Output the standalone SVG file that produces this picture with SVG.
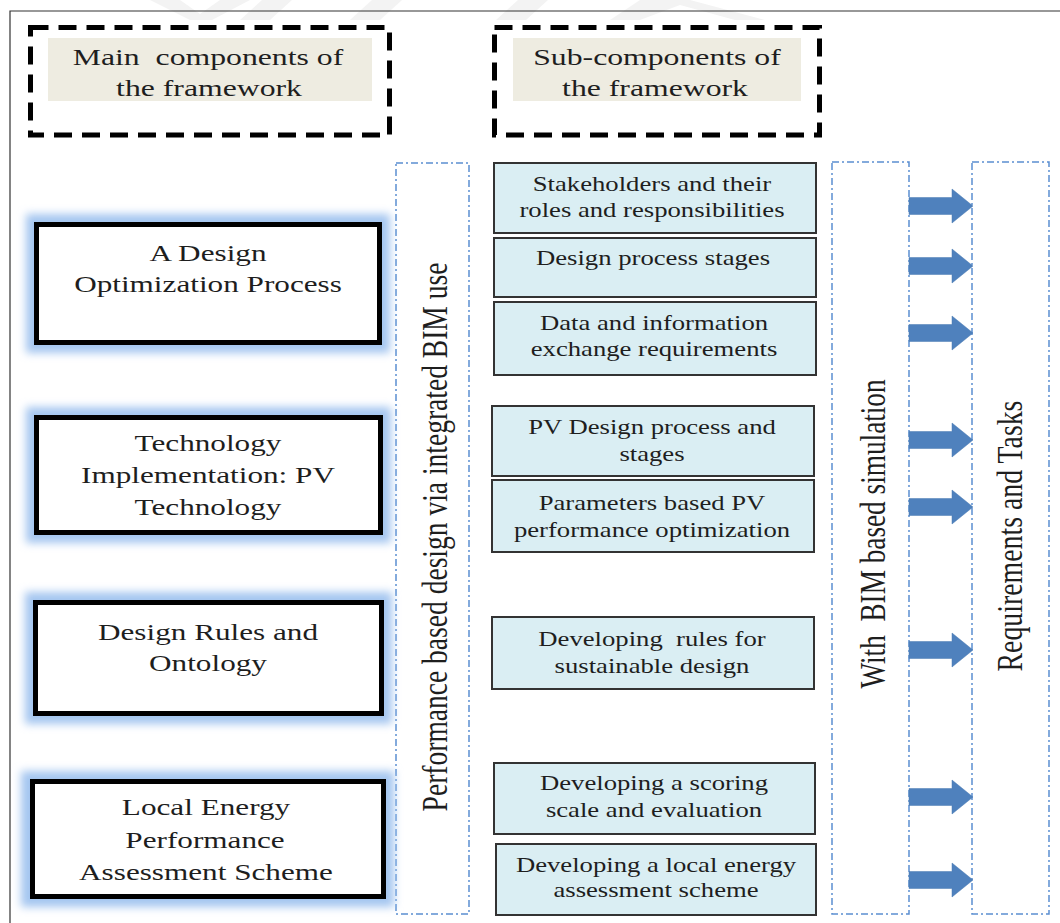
<svg xmlns="http://www.w3.org/2000/svg" width="1060" height="923" viewBox="0 0 1060 923">
<style>
  text { fill: #1e1e1e; text-anchor: middle; font-family: 'Liberation Serif', serif; }
  .hdr { font-size: 23px; }
  .main { font-size: 24px; }
  .sub { font-size: 21px; }
  .vert { font-size: 27px; }
  .dashbox { fill: none; stroke: #000; stroke-width: 5; stroke-dasharray: 18 10; }
  .beige { fill: #eeece1; }
  .mainbox { fill: #fff; stroke: #000; stroke-width: 5; }
  .glowrect { fill: #a4c6f0; }
  .subbox { fill: #daeef3; stroke: #333; stroke-width: 2; }
  .col { fill: none; stroke: #5b8ed1; stroke-width: 1.5; stroke-dasharray: 7 3 2 3; }
  .arrow { fill: #4f81bd; stroke: #4a7ab3; stroke-width: 0.5; }
  .wm { fill: #f3f3f3; }
</style>
<defs>
  <filter id="glow" x="-15%" y="-30%" width="130%" height="160%">
    <feGaussianBlur stdDeviation="4"/>
  </filter>
</defs>
<rect x="0" y="0" width="1060" height="923" fill="#fff"/>

<g id="watermark">
  <polygon class="wm" points="150,0 180,0 200,14 220,0 250,0 212,20 190,20"/>
  <polygon class="wm" points="262,0 292,0 270,20 240,20"/>
  <polygon class="wm" points="372,0 402,0 380,20 350,20"/>
  <polygon class="wm" points="518,0 548,0 526,20 496,20"/>
  <polygon class="wm" points="640,0 690,0 765,20 735,20 680,5 640,20 610,20"/>
</g>

<g id="frame">
  <polyline points="10,923 10,11 1060,11" fill="none" stroke="#333" stroke-width="1.2"/>
</g>

<g id="header-main">
  <rect class="dashbox" x="30.5" y="27.5" width="359" height="107.5"/>
  <rect class="beige" x="48" y="38" width="324" height="63"/>
  <text class="hdr" transform="translate(208,65) scale(1.38,1)" xml:space="preserve">Main  components of</text>
  <text class="hdr" transform="translate(209,96) scale(1.38,1)">the framework</text>
</g>

<g id="header-sub">
  <rect class="dashbox" x="494.5" y="27.5" width="325" height="107.5"/>
  <rect class="beige" x="513" y="38" width="288" height="63"/>
  <text class="hdr" transform="translate(657,65) scale(1.38,1)">Sub-components of</text>
  <text class="hdr" transform="translate(655,96) scale(1.38,1)">the framework</text>
</g>

<g id="col-performance">
  <rect class="col" x="396" y="163" width="73" height="751"/>
  <text class="vert" transform="translate(447,537) scale(1.3,1) rotate(-90) scale(1.02,1)">Performance based design via integrated BIM use</text>
</g>

<g id="col-simulation">
  <rect class="col" x="832" y="162" width="77" height="752"/>
  <text class="vert" transform="translate(885,534) scale(1.3,1) rotate(-90) scale(1.01,1)" xml:space="preserve">With  BIM based simulation</text>
</g>

<g id="col-requirements">
  <rect class="col" x="972" y="162" width="77" height="752"/>
  <text class="vert" transform="translate(1022,536) scale(1.3,1) rotate(-90) scale(1.03,1)">Requirements and Tasks</text>
</g>

<g id="main-design-optimization">
  <rect class="glowrect" x="26" y="214" width="364" height="139" filter="url(#glow)"/>
  <rect class="mainbox" x="36.5" y="224.5" width="343" height="118"/>
  <text class="main" transform="translate(208,261) scale(1.3,1)">A Design</text>
  <text class="main" transform="translate(208,292) scale(1.3,1)">Optimization Process</text>
</g>

<g id="main-technology">
  <rect class="glowrect" x="26" y="407" width="365" height="136" filter="url(#glow)"/>
  <rect class="mainbox" x="36.5" y="417.5" width="344" height="115"/>
  <text class="main" transform="translate(208,451) scale(1.3,1)">Technology</text>
  <text class="main" transform="translate(208,483) scale(1.3,1)">Implementation: PV</text>
  <text class="main" transform="translate(208,515) scale(1.3,1)">Technology</text>
</g>

<g id="main-design-rules">
  <rect class="glowrect" x="25" y="592" width="367" height="132" filter="url(#glow)"/>
  <rect class="mainbox" x="35.5" y="602.5" width="346" height="111"/>
  <text class="main" transform="translate(208,640) scale(1.3,1)">Design Rules and</text>
  <text class="main" transform="translate(208,671) scale(1.3,1)">Ontology</text>
</g>

<g id="main-local-energy">
  <rect class="glowrect" x="21" y="771" width="373" height="136" filter="url(#glow)"/>
  <rect class="mainbox" x="32.5" y="781.5" width="351" height="115"/>
  <text class="main" transform="translate(206,815) scale(1.3,1)">Local Energy</text>
  <text class="main" transform="translate(205,848) scale(1.3,1)">Performance</text>
  <text class="main" transform="translate(206,880) scale(1.3,1)">Assessment Scheme</text>
</g>

<g id="sub-stakeholders">
  <rect class="subbox" x="494" y="163" width="322" height="70"/>
  <text class="sub" transform="translate(652,191) scale(1.27,1)">Stakeholders and their</text>
  <text class="sub" transform="translate(652,217) scale(1.27,1)">roles and responsibilities</text>
</g>

<g id="sub-design-process">
  <rect class="subbox" x="494" y="238" width="322" height="59"/>
  <text class="sub" transform="translate(653,265) scale(1.27,1)">Design process stages</text>
</g>

<g id="sub-data-exchange">
  <rect class="subbox" x="494" y="302" width="322" height="73"/>
  <text class="sub" transform="translate(654,330) scale(1.27,1)">Data and information</text>
  <text class="sub" transform="translate(654,356) scale(1.27,1)">exchange requirements</text>
</g>

<g id="sub-pv-design">
  <rect class="subbox" x="492" y="406" width="322" height="70"/>
  <text class="sub" transform="translate(652,434) scale(1.27,1)">PV Design process and</text>
  <text class="sub" transform="translate(652,461) scale(1.27,1)">stages</text>
</g>

<g id="sub-parameters">
  <rect class="subbox" x="492" y="480" width="322" height="72"/>
  <text class="sub" transform="translate(652,510) scale(1.27,1)">Parameters based PV</text>
  <text class="sub" transform="translate(652,537) scale(1.27,1)">performance optimization</text>
</g>

<g id="sub-rules">
  <rect class="subbox" x="492" y="617" width="322" height="72"/>
  <text class="sub" transform="translate(652,646) scale(1.27,1)" xml:space="preserve">Developing  rules for</text>
  <text class="sub" transform="translate(652,673) scale(1.27,1)">sustainable design</text>
</g>

<g id="sub-scoring">
  <rect class="subbox" x="494" y="763" width="321" height="71"/>
  <text class="sub" transform="translate(654,790) scale(1.27,1)">Developing a scoring</text>
  <text class="sub" transform="translate(654,817) scale(1.27,1)">scale and evaluation</text>
</g>

<g id="sub-local-scheme">
  <rect class="subbox" x="496" y="844" width="320" height="71"/>
  <text class="sub" transform="translate(656,872) scale(1.27,1)">Developing a local energy</text>
  <text class="sub" transform="translate(656,897) scale(1.27,1)">assessment scheme</text>
</g>

<g id="connectors">
  <path class="arrow" d="M909,197.5 H952 V189 L973,206 L952,223 V214.5 H909 Z"/>
  <path class="arrow" d="M909,257.5 H952 V249 L973,266 L952,283 V274.5 H909 Z"/>
  <path class="arrow" d="M909,324.5 H952 V316 L973,333 L952,350 V341.5 H909 Z"/>
  <path class="arrow" d="M909,431.5 H952 V423 L973,440 L952,457 V448.5 H909 Z"/>
  <path class="arrow" d="M909,498.5 H952 V490 L973,507 L952,524 V515.5 H909 Z"/>
  <path class="arrow" d="M909,641.5 H952 V633 L973,650 L952,667 V658.5 H909 Z"/>
  <path class="arrow" d="M909,788.5 H952 V780 L973,797 L952,814 V805.5 H909 Z"/>
  <path class="arrow" d="M909,871.5 H952 V863 L973,880 L952,897 V888.5 H909 Z"/>
</g>
</svg>
